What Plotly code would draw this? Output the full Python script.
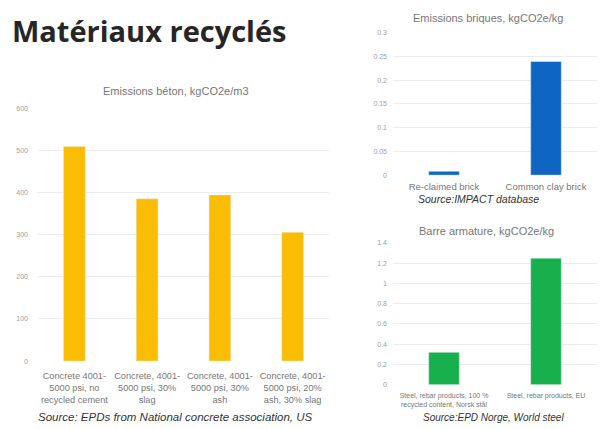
import plotly.graph_objects as go

# donnees
beton_cats = ["Concrete 4001-<br>5000 psi, no<br>recycled cement",
              "Concrete, 4001-<br>5000 psi, 30%<br>slag",
              "Concrete, 4001-<br>5000 psi, 30%<br>ash",
              "Concrete, 4001-<br>5000 psi, 20%<br>ash, 30% slag"]
beton_vals = [509, 385, 394, 306]
beton_ticks = [0, 100, 200, 300, 400, 500, 600]

brique_cats = ["Re-claimed brick", "Common clay brick"]
brique_vals = [0.008, 0.239]
brique_ticks = [0, 0.05, 0.1, 0.15, 0.2, 0.25, 0.3]

acier_cats = ["Steel, rebar products, 100 %<br>recycled content, Norsk stål",
              "Steel, rebar products, EU"]
acier_vals = [0.32, 1.25]
acier_ticks = [0, 0.2, 0.4, 0.6, 0.8, 1, 1.2, 1.4]

W, H = 603, 429
FONT = "Liberation Sans"
grid = "#ececec"
tick_col = "#a0a0a0"

fig = go.Figure()
fig.add_trace(go.Bar(x=beton_cats, y=beton_vals, marker_color="#fbbc04",
                     width=0.3, xaxis="x", yaxis="y"))
fig.add_trace(go.Bar(x=brique_cats, y=brique_vals, marker_color="#0f65c3",
                     width=0.3, xaxis="x2", yaxis="y2"))
fig.add_trace(go.Bar(x=acier_cats, y=acier_vals, marker_color="#17b04c",
                     width=0.3, xaxis="x3", yaxis="y3"))

def yax(dom, ticks, rng, anchor, standoff, ticktext=None):
    return dict(domain=dom, range=rng, tickvals=ticks, ticktext=ticktext,
                showgrid=True, gridcolor=grid, gridwidth=1, zeroline=False,
                showline=False, ticks="", anchor=anchor,
                ticklabelstandoff=standoff,
                tickfont=dict(family=FONT, size=7, color=tick_col))

def xax(dom, anchor, size, standoff, col="#777"):
    return dict(domain=dom, anchor=anchor, showgrid=False, zeroline=False,
                showline=False, ticks="", tickangle=0,
                ticklabelstandoff=standoff,
                tickfont=dict(family=FONT, size=size, color=col))

fig.update_layout(
    width=W, height=H,
    margin=dict(l=0, r=0, t=0, b=0),
    paper_bgcolor="white", plot_bgcolor="white",
    showlegend=False,
    xaxis=xax([38 / W, 329 / W], "y", 9.2, 8),
    yaxis=yax([1 - 363 / H, 1 - 106 / H], beton_ticks, [0, 600], "x", 9),
    xaxis2=xax([393 / W, 597 / W], "y2", 9.5, 4),
    yaxis2=yax([1 - 174 / H, 1 - 29 / H], brique_ticks, [0, 0.3], "x2", 5,
               ["0", "0.05", "0.1", "0.15", "0.2", "0.25", "0.3"]),
    xaxis3=xax([393 / W, 597 / W], "y3", 7, 5),
    yaxis3=yax([1 - 387 / H, 1 - 243 / H], acier_ticks, [0, 1.4], "x3", 5,
               ["0", "0.2", "0.4", "0.6", "0.8", "1", "1.2", "1.4"]),
)

def txt(s, x, y, size, color, xanchor="center", bold=False, italic=False, family=FONT):
    fig.add_annotation(text=s, x=x / W, y=1 - y / H, xref="paper", yref="paper",
                       xanchor=xanchor, yanchor="middle", showarrow=False,
                       font=dict(family=family, size=size, color=color,
                                 weight="bold" if bold else "normal",
                                 style="italic" if italic else "normal"))

txt("Matériaux recyclés", 10, 27, 29, "#262626", xanchor="left", bold=True, family="Open Sans")
txt("Emissions béton, kgCO2e/m3", 176, 88, 11, "#777")
txt("Source: EPDs from National concrete association, US", 175, 420, 11.5, "#333", italic=True)
txt("Emissions briques, kgCO2e/kg", 488, 14, 11, "#777")
txt("Source:IMPACT database", 478, 198, 10.5, "#333", italic=True)
txt("Barre armature, kgCO2e/kg", 486, 231, 11, "#777")
txt("Source:EPD Norge, World steel", 493, 420, 10, "#333", italic=True)

# supprime la marge par defaut du body pour coller a la fenetre
fig.write_html("out.html", config={"displayModeBar": False},
               post_script="document.body.style.margin='0';")
